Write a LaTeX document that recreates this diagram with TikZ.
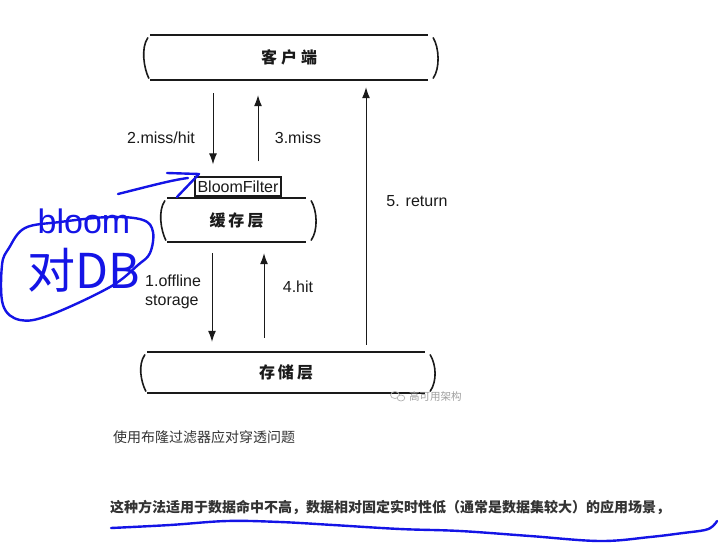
\documentclass[tikz,border=0pt]{standalone}
\usepackage{fontspec}
\setmainfont{Liberation Sans}
\newfontfamily\cjk{Noto Sans CJK SC}
\usetikzlibrary{arrows.meta,calc}
\definecolor{ink}{HTML}{1A1A1A}
\definecolor{pen}{HTML}{1414E6}
\definecolor{bodytxt}{HTML}{333333}
\tikzset{
  layer/.style={inner sep=0pt, text=ink, font=\cjk\bfseries\fontsize{16}{19}\selectfont},
  boxline/.style={line width=2.4pt, ink},
  braceline/.style={line width=1.6pt, ink, line cap=round},
  arr/.style={line width=1pt, ink, -{Latex[length=11pt,width=8pt]}},
  lbl/.style={text=ink, font=\fontsize{16}{19}\selectfont, inner sep=0pt},
  bodytext/.style={text=bodytxt, inner sep=0pt, font=\cjk\fontsize{14}{16}\selectfont},
  penline/.style={pen, line width=2.4pt, line cap=round, line join=round},
  bloombox/.style={draw=ink, line width=1.3pt, inner sep=0pt, minimum width=86pt, minimum height=19pt, text=ink, font=\fontsize{16}{19}\selectfont}
}
\newcommand\layerframe[1]{%
  \draw[boxline] (#1.north west) -- (#1.north east);
  \draw[boxline] (#1.south west) -- (#1.south east);
  \draw[braceline] ($(#1.north west)+(-2,3)$) .. controls +(-7,10) and +(-5,-10) .. ($(#1.south west)+(-1,-2)$);
  \draw[braceline] ($(#1.north east)+(5,3)$) .. controls +(6,10) and +(7,-10) .. ($(#1.south east)+(5,-2)$);
}
\begin{document}
\begin{tikzpicture}[x=1pt,y=-1pt]
\useasboundingbox (0,0) rectangle (719,543);
\fill[white] (0,0) rectangle (719,543);

% layers
\node[layer, minimum width=278pt, minimum height=45pt] (client) at (289,57.5) {客\hspace{4pt}户\hspace{4pt}端};
\layerframe{client}
\node[layer, minimum width=139pt, minimum height=44pt] (cache) at (236.5,220) {缓\hspace{3pt}存\hspace{3pt}层};
\layerframe{cache}
\node[layer, minimum width=278pt, minimum height=41pt] (storage) at (286,372.5) {存\hspace{3pt}储\hspace{3pt}层};
\layerframe{storage}
\node[bloombox] (bloom) at (238,186.5) {BloomFilter};

% arrow columns
\coordinate (c1) at (212,0);
\coordinate (c2) at (213,0);
\coordinate (c3) at (258,0);
\coordinate (c4) at (264,0);
\coordinate (c5) at (366,0);

\draw[arr, shorten <=13pt, shorten >=12pt] (client.south -| c2) -- (bloom.north -| c2);
\draw[arr, shorten <=15pt, shorten >=15pt] (bloom.north -| c3) -- (client.south -| c3);
\draw[arr, shorten <=11pt, shorten >=10pt] (cache.south -| c1) -- (storage.north -| c1);
\draw[arr, shorten <=14pt, shorten >=11pt] (storage.north -| c4) -- (cache.south -| c4);
\draw[arr, shorten <=7pt, shorten >=7pt] (storage.north -| c5) -- (client.south -| c5);

% labels
\node[lbl] (l2) at (161,138) {2.miss/hit};
\node[lbl] (l3) at (298,138) {3.miss};
\node[lbl] (l5) at (417,201) {5. return};
\node[lbl, anchor=west, align=left] (l1) at (145,291.5) {1.offline\\storage};
\node[lbl] (l4) at (298,287) {4.hit};

% watermark
\draw[gray!60, line width=0.7pt] (395,395) ellipse (4.5pt and 3.5pt);
\draw[gray!60, line width=0.7pt, fill=white] (401,398) ellipse (3.8pt and 3pt);
\node[anchor=west, inner sep=0pt, text=gray!75, font=\cjk\fontsize{10.5}{12}\selectfont] (wm) at (409,397) {高可用架构};

% body text
\node[bodytext, anchor=west] (t1) at (113,437) {使用布隆过滤器应对穿透问题};
\node[bodytext, anchor=west, font=\cjk\bfseries\fontsize{14}{16}\selectfont] (t2) at (110,507) {这种方法适用于数据命中不高，数据相对固定实时性低（通常是数据集较大）的应用场景，};

% handwritten annotations
\node[text=pen, inner sep=0pt, font=\fontsize{34}{40}\selectfont] (hw1) at (84,221) {bloom};
\node[text=pen, inner sep=0pt, font=\cjk\fontsize{48}{52}\selectfont] (hw2) at (84,270) {对DB};
\draw[penline] plot[smooth cycle, tension=0.6] coordinates {(25,228) (60,222) (110,217) (143,220) (153,232) (150,253) (138,265) (110,287) (50,315) (20,320) (3,305) (2,265) (9,248)};
\draw[penline] (118,194) .. controls (150,186) and (172,180) .. (188,178);
\draw[penline] (167,173) -- (199,174) -- (177,197);
\draw[penline] plot[smooth, tension=0.6] coordinates {(111,528) (170,525) (227,521) (280,522) (333,525) (400,529) (460,531) (530,536) (600,541) (650,537) (683,533) (705,530) (713,526) (717,521)};
\end{tikzpicture}
\end{document}
